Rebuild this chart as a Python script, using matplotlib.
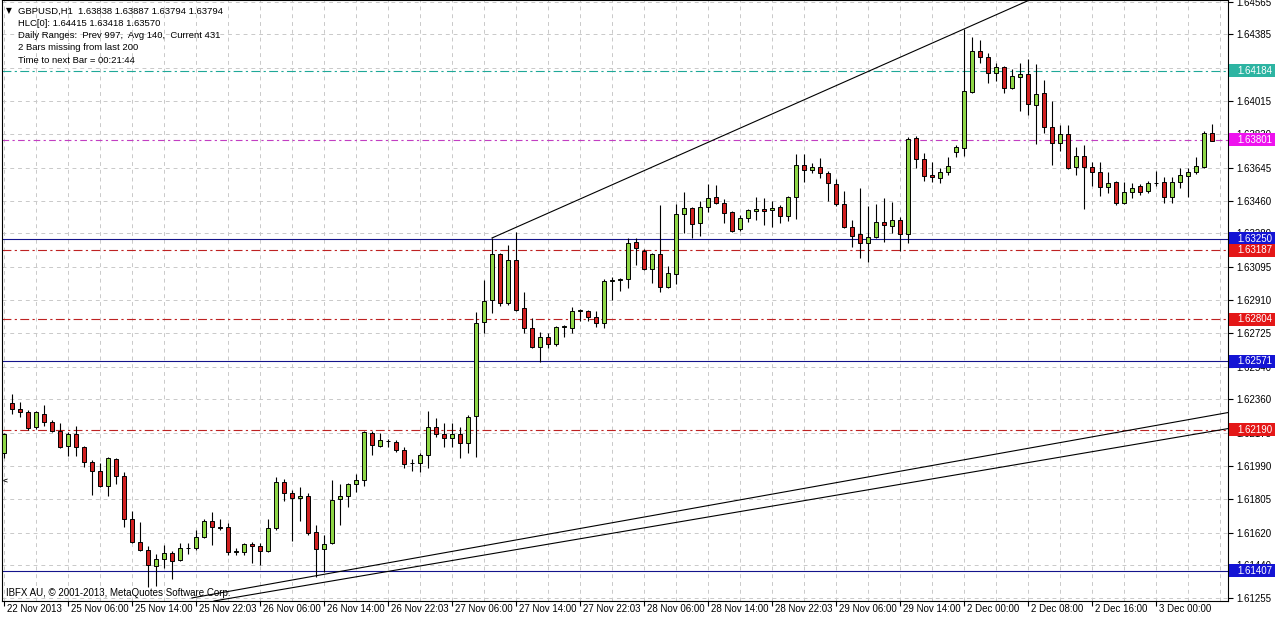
import matplotlib
matplotlib.use('Agg')
import matplotlib.pyplot as plt
import matplotlib.transforms as mtransforms
from matplotlib.patches import Rectangle
import numpy as np

plt.rcParams['font.family'] = ['Liberation Sans', 'DejaVu Sans']

# GBPUSD H1 bars (bar 0 = left edge)
opens = [
    1.62062, 1.62339, 1.62306, 1.62289, 1.62206, 1.62278, 1.62234, 1.62184, 1.62101, 1.62167,
    1.62095, 1.62012, 1.61962, 1.61879, 1.62029, 1.61934, 1.61696, 1.61568, 1.61524, 1.61435,
    1.61474, 1.61507, 1.61468, 1.61532, 1.61535, 1.61596, 1.61684, 1.61651, 1.61651, 1.61512,
    1.61512, 1.61557, 1.61546, 1.61518, 1.61646, 1.61901, 1.61840, 1.61812, 1.61823, 1.61623,
    1.61529, 1.61562, 1.61807, 1.61823, 1.61890, 1.61912, 1.62173, 1.62101, 1.62128, 1.62123,
    1.62079, 1.62006, 1.62006, 1.62051, 1.62206, 1.62167, 1.62145, 1.62167, 1.62117, 1.62267,
    1.62789, 1.62911, 1.63166, 1.62894, 1.63133, 1.62867, 1.62756, 1.62650, 1.62706, 1.62667,
    1.62761, 1.62756, 1.62850, 1.62850, 1.62817, 1.62783, 1.63016, 1.63022, 1.63028, 1.63233,
    1.63183, 1.63083, 1.63166, 1.62983, 1.63055, 1.63388, 1.63422, 1.63338, 1.63427, 1.63483,
    1.63449, 1.63399, 1.63305, 1.63366, 1.63405, 1.63416, 1.63411, 1.63427, 1.63377, 1.63483,
    1.63660, 1.63633, 1.63649, 1.63616, 1.63555, 1.63444, 1.63316, 1.63277, 1.63227, 1.63261,
    1.63344, 1.63322, 1.63355, 1.63277, 1.63810, 1.63694, 1.63605, 1.63588, 1.63621, 1.63732,
    1.63755, 1.64065, 1.64293, 1.64260, 1.64171, 1.64204, 1.64088, 1.64149, 1.64165, 1.63993,
    1.64060, 1.63871, 1.63782, 1.63832, 1.63649, 1.63710, 1.63649, 1.63621, 1.63538, 1.63566,
    1.63449, 1.63510, 1.63544, 1.63516, 1.63560, 1.63566, 1.63483, 1.63566, 1.63599, 1.63621,
    1.63649, 1.63838]
highs = [
    1.62173, 1.62389, 1.62345, 1.62300, 1.62295, 1.62328, 1.62245, 1.62228, 1.62178, 1.62212,
    1.62101, 1.62023, 1.62006, 1.62040, 1.62034, 1.61956, 1.61740, 1.61679, 1.61546, 1.61501,
    1.61551, 1.61518, 1.61562, 1.61562, 1.61635, 1.61696, 1.61734, 1.61696, 1.61673, 1.61535,
    1.61562, 1.61568, 1.61562, 1.61696, 1.61929, 1.61918, 1.61857, 1.61873, 1.61840, 1.61662,
    1.61607, 1.61912, 1.61890, 1.61895, 1.61945, 1.62184, 1.62184, 1.62173, 1.62140, 1.62134,
    1.62095, 1.62029, 1.62062, 1.62295, 1.62256, 1.62228, 1.62228, 1.62206, 1.62273, 1.62844,
    1.63022, 1.63255, 1.63172, 1.63216, 1.63288, 1.62955, 1.62811, 1.62733, 1.62728, 1.62767,
    1.62772, 1.62872, 1.62861, 1.62856, 1.62850, 1.63028, 1.63039, 1.63033, 1.63255, 1.63255,
    1.63194, 1.63172, 1.63438, 1.63100, 1.63444, 1.63510, 1.63427, 1.63460, 1.63555, 1.63549,
    1.63472, 1.63405, 1.63383, 1.63416, 1.63483, 1.63477, 1.63460, 1.63438, 1.63488, 1.63721,
    1.63721, 1.63671, 1.63699, 1.63627, 1.63583, 1.63516, 1.63355, 1.63533, 1.63433, 1.63444,
    1.63477, 1.63455, 1.63372, 1.63816, 1.63821, 1.63727, 1.63677, 1.63644, 1.63705, 1.63771,
    1.64415, 1.64371, 1.64354, 1.64282, 1.64226, 1.64210, 1.64193, 1.64226, 1.64249, 1.64221,
    1.64132, 1.64015, 1.63882, 1.63882, 1.63760, 1.63771, 1.63677, 1.63677, 1.63621, 1.63571,
    1.63566, 1.63560, 1.63555, 1.63571, 1.63627, 1.63594, 1.63594, 1.63644, 1.63644, 1.63705,
    1.63850, 1.63887]
lows = [
    1.62034, 1.62278, 1.62262, 1.62190, 1.62195, 1.62212, 1.62178, 1.62090, 1.62045, 1.62045,
    1.61984, 1.61829, 1.61873, 1.61823, 1.61890, 1.61651, 1.61562, 1.61518, 1.61318, 1.61324,
    1.61424, 1.61363, 1.61462, 1.61501, 1.61524, 1.61590, 1.61551, 1.61635, 1.61496, 1.61496,
    1.61496, 1.61451, 1.61440, 1.61512, 1.61635, 1.61795, 1.61573, 1.61684, 1.61607, 1.61374,
    1.61401, 1.61557, 1.61662, 1.61762, 1.61845, 1.61879, 1.62051, 1.62095, 1.62095, 1.62067,
    1.61979, 1.61962, 1.61956, 1.61979, 1.62151, 1.62095, 1.62095, 1.62034, 1.62062, 1.62040,
    1.62728, 1.62839, 1.62878, 1.62883, 1.62850, 1.62728, 1.62645, 1.62567, 1.62645, 1.62656,
    1.62706, 1.62728, 1.62794, 1.62794, 1.62761, 1.62756, 1.62911, 1.62961, 1.62978, 1.63105,
    1.63078, 1.63005, 1.62955, 1.62978, 1.63000, 1.63283, 1.63255, 1.63266, 1.63399, 1.63444,
    1.63338, 1.63288, 1.63294, 1.63344, 1.63355, 1.63327, 1.63316, 1.63338, 1.63349, 1.63361,
    1.63566, 1.63616, 1.63588, 1.63460, 1.63433, 1.63311, 1.63205, 1.63144, 1.63122, 1.63255,
    1.63233, 1.63283, 1.63183, 1.63227, 1.63644, 1.63571, 1.63566, 1.63560, 1.63605, 1.63705,
    1.63710, 1.64060, 1.64226, 1.64115, 1.64126, 1.64060, 1.64082, 1.63960, 1.63938, 1.63777,
    1.63838, 1.63660, 1.63738, 1.63638, 1.63605, 1.63418, 1.63544, 1.63488, 1.63505, 1.63438,
    1.63444, 1.63477, 1.63494, 1.63505, 1.63544, 1.63449, 1.63449, 1.63533, 1.63483, 1.63610,
    1.63644, 1.63794]
closes = [
    1.62167, 1.62306, 1.62289, 1.62201, 1.62289, 1.62234, 1.62184, 1.62095, 1.62167, 1.62095,
    1.62012, 1.61962, 1.61879, 1.62034, 1.61934, 1.61696, 1.61568, 1.61524, 1.61440, 1.61474,
    1.61507, 1.61462, 1.61535, 1.61535, 1.61596, 1.61684, 1.61651, 1.61646, 1.61512, 1.61515,
    1.61557, 1.61546, 1.61518, 1.61646, 1.61901, 1.61840, 1.61812, 1.61823, 1.61618, 1.61529,
    1.61557, 1.61801, 1.61823, 1.61890, 1.61912, 1.62178, 1.62106, 1.62134, 1.62126, 1.62079,
    1.62001, 1.62004, 1.62051, 1.62206, 1.62167, 1.62145, 1.62167, 1.62117, 1.62262, 1.62783,
    1.62905, 1.63166, 1.62894, 1.63133, 1.62856, 1.62756, 1.62650, 1.62706, 1.62667, 1.62761,
    1.62767, 1.62850, 1.62856, 1.62817, 1.62783, 1.63016, 1.63022, 1.63028, 1.63227, 1.63200,
    1.63083, 1.63166, 1.62983, 1.63061, 1.63388, 1.63422, 1.63333, 1.63427, 1.63477, 1.63449,
    1.63394, 1.63294, 1.63366, 1.63411, 1.63416, 1.63405, 1.63422, 1.63377, 1.63483, 1.63660,
    1.63633, 1.63649, 1.63616, 1.63560, 1.63444, 1.63316, 1.63266, 1.63227, 1.63261, 1.63344,
    1.63327, 1.63355, 1.63277, 1.63805, 1.63694, 1.63599, 1.63594, 1.63621, 1.63655, 1.63760,
    1.64071, 1.64293, 1.64260, 1.64171, 1.64204, 1.64088, 1.64154, 1.64165, 1.63999, 1.64054,
    1.63871, 1.63782, 1.63832, 1.63644, 1.63710, 1.63649, 1.63621, 1.63538, 1.63560, 1.63449,
    1.63510, 1.63533, 1.63510, 1.63560, 1.63562, 1.63483, 1.63566, 1.63605, 1.63621, 1.63655,
    1.63838, 1.63794]

# time axis labels (every 8 bars)
xtick_bars = [0, 8, 16, 24, 32, 40, 48, 56, 64, 72, 80, 88, 96, 104, 112, 120, 128, 136, 144]
xtick_labels = ['22 Nov 2013', '25 Nov 06:00', '25 Nov 14:00', '25 Nov 22:03', '26 Nov 06:00',
                '26 Nov 14:00', '26 Nov 22:03', '27 Nov 06:00', '27 Nov 14:00', '27 Nov 22:03',
                '28 Nov 06:00', '28 Nov 14:00', '28 Nov 22:03', '29 Nov 06:00', '29 Nov 14:00',
                '2 Dec 00:00', '2 Dec 08:00', '2 Dec 16:00', '3 Dec 00:00']
price_ticks = [1.64565, 1.64385, 1.64200, 1.64015, 1.63830, 1.63645, 1.63460, 1.63280, 1.63095,
               1.62910, 1.62725, 1.62540, 1.62360, 1.62175, 1.61990, 1.61805, 1.61620, 1.61440,
               1.61255]

# horizontal levels and their kind
levels = [1.64184, 1.63801, 1.63250, 1.63187, 1.62804, 1.62571, 1.62190, 1.61407]
level_kind = ['teal', 'magenta', 'blue', 'red', 'red', 'blue', 'red', 'blue']

# trend lines: two anchor points (bar, price), drawn as rays to the right
trend_lines = [
    [(61, 1.63255), (120, 1.64415)],
    [(23.5, 1.61257), (153, 1.62286)],
    [(26.25, 1.61240), (153, 1.62197)],
]

header = ['GBPUSD,H1  1.63838 1.63887 1.63794 1.63794',
          'HLC[0]: 1.64415 1.63418 1.63570',
          'Daily Ranges:  Prev 997,  Avg 140,  Current 431',
          '2 Bars missing from last 200',
          'Time to next Bar = 00:21:44']

styles = {
    'teal':    dict(line='#1FA898', box='#2DB4A2', ls=(0, (8, 3, 2, 3))),
    'magenta': dict(line='#C23EC2', box='#EE12EE', ls=(0, (6, 3, 2, 3))),
    'blue':    dict(line='#14148C', box='#1414D4', ls='-'),
    'red':     dict(line='#BE2222', box='#E41717', ls=(0, (8, 3, 2, 3))),
}

W, H = 1276, 619
fig = plt.figure(figsize=(W / 100, H / 100), dpi=100)
ax = fig.add_axes([2 / W, 18 / H, 1226 / W, 601 / H])
ax.set_xlim(-0.25, 153)
ax.set_ylim(1.61240, 1.64576)

# grid
for p in price_ticks:
    ax.axhline(p, color='#C9C9C9', lw=0.7, ls=(0, (4, 4)), zorder=1)
for b in range(0, 153, 4):
    ax.axvline(b, color='#C9C9C9', lw=0.7, ls=(0, (4, 4)), zorder=1)

# candles
x = np.arange(len(opens))
o = np.array(opens)
hi = np.array(highs)
lo = np.array(lows)
c = np.array(closes)
up = c > o
dn = c < o
eq = c == o
ax.vlines(x, lo, hi, color='black', lw=0.8, zorder=3)
body_lo = np.minimum(o, c)
body_h = np.abs(c - o)
bw = 0.62
ax.bar(x[up], body_h[up], bottom=body_lo[up], width=bw, color='#8ED646',
       edgecolor='black', lw=0.7, zorder=4)
ax.bar(x[dn], body_h[dn], bottom=body_lo[dn], width=bw, color='#D01F1F',
       edgecolor='black', lw=0.7, zorder=4)
ax.hlines(c[eq], x[eq] - bw / 2, x[eq] + bw / 2, color='black', lw=0.9, zorder=4)

# horizontal levels
for p, k in zip(levels, level_kind):
    st = styles[k]
    ax.axhline(p, color=st['line'], lw=0.8, ls=st['ls'], zorder=2)

# trend lines
for (x0, y0), (x1, y1) in trend_lines:
    slope = (y1 - y0) / (x1 - x0)
    xe = 153
    ax.plot([x0, xe], [y0, y0 + slope * (xe - x0)], color='black', lw=0.8, zorder=5)

# axes style
for s in ax.spines.values():
    s.set_color('black')
    s.set_linewidth(0.8)
ax.yaxis.tick_right()
ax.set_yticks(price_ticks)
ax.set_yticklabels([f'{p:.5f}' for p in price_ticks])
ax.tick_params(axis='y', length=3.6, width=0.8, pad=2.5, labelsize=7)
ax.set_xticks(xtick_bars)
ax.set_xticklabels(xtick_labels)
ax.tick_params(axis='x', length=3.6, width=0.8, pad=-1.5, labelsize=7)
offset = mtransforms.ScaledTranslation(2 / 72, 0, fig.dpi_scale_trans)
for lab in ax.get_xticklabels():
    lab.set_horizontalalignment('left')
    lab.set_transform(lab.get_transform() + offset)

# price labels on the right axis
blend = mtransforms.blended_transform_factory(ax.transAxes, ax.transData)
px = (1.64576 - 1.61240) / 601
for p, k in zip(levels, level_kind):
    st = styles[k]
    ax.add_patch(Rectangle((1.0008, p - 6.5 * px), 46 / 1226, 13 * px, transform=blend,
                           facecolor=st['box'], edgecolor='none', clip_on=False, zorder=6))
    ax.text(1.0008 + 8 / 1226, p, f'{p:.5f}', transform=blend, color='white', fontsize=7,
            va='center', ha='left', clip_on=False, zorder=7)

# header texts
fig.text(6 / W, 1 - 11 / H, '\u25bc', fontsize=5.5, va='center', ha='left', family='DejaVu Sans')
for i, line in enumerate(header):
    fig.text(18 / W, 1 - (11 + 12.3 * i) / H, line, fontsize=6.8, va='center', ha='left')
fig.text(6 / W, 1 - 593 / H, 'IBFX AU, \u00a9 2001-2013, MetaQuotes Software Corp.',
         fontsize=7, va='center', ha='left')
ax.text(-0.2, 1.61901, '<', fontsize=6, fontweight='bold', va='center', ha='left')

fig.savefig('out.png', dpi=100)
